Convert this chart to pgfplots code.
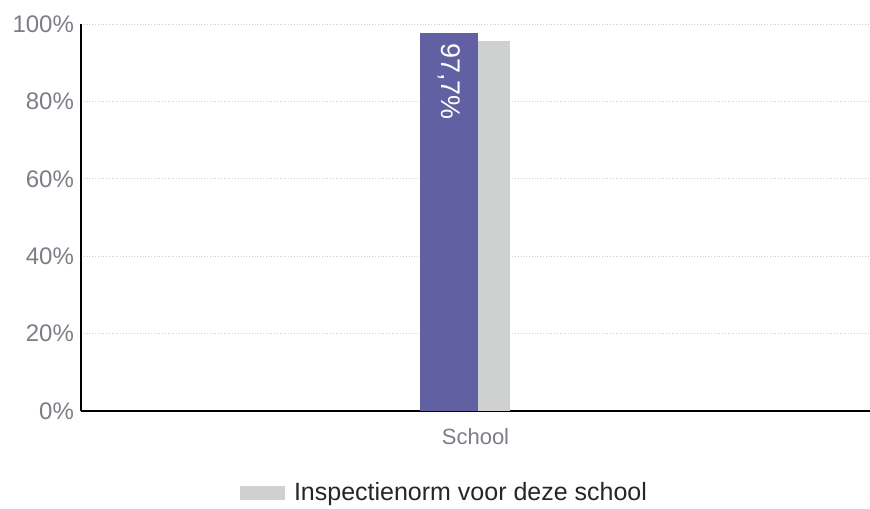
\documentclass[border=0pt]{standalone}
\usepackage{pgfplots}
\pgfplotsset{compat=1.18}
\usepackage{fontspec}
\setmainfont{Liberation Sans}
\definecolor{barpurple}{RGB}{96,96,163}
\definecolor{normgray}{RGB}{206,209,207}
\definecolor{ticktext}{RGB}{125,125,135}
\begin{document}
\begin{tikzpicture}
\useasboundingbox (-40.5pt,-48.5pt) rectangle (394.5pt,205.5pt);
\begin{axis}[
at={(0,0)}, anchor=south west,
scale only axis,
width=394.5pt, height=193.5pt,
xmin=-1, xmax=1,
ymin=0, ymax=100,
ytick={0,20,40,60,80,100},
yticklabel={\pgfmathprintnumber{\tick}\%},
xtick={0}, xticklabels={School},
major tick length=0pt,
axis lines=left,
axis line style={-, black, line width=1pt},
ymajorgrids,
grid style={densely dotted, gray!40},
tick label style={font=\fontsize{11}{13}\selectfont, text=ticktext},
yticklabel style={font=\fontsize{12}{14}\selectfont},
xticklabel style={yshift=-5pt},
/pgf/number format/assume math mode=true,
legend style={at={(0.462,-0.212)}, anchor=center, draw=none,
  font=\fontsize{12.5}{14}\selectfont, text=black!85},
legend image code/.code={\fill[normgray] (0pt,-3.5pt) rectangle (22.5pt,3.5pt);
  \path (0pt,0pt) -- (25pt,0pt);},
]
\addplot[ybar, bar width=0.147, bar shift=0pt, fill=barpurple, draw=none,
  nodes near coords={97,7\%},
  every node near coord/.append style={rotate=-90, anchor=west, text=white,
    font=\fontsize{13.5}{15}\selectfont, inner xsep=5pt}, forget plot]
  coordinates {(-0.067,97.7)};
\addplot[ybar, bar width=0.081, bar shift=0pt, fill=normgray, draw=none]
  coordinates {(0.047,95.7)};
\addlegendentry{Inspectienorm voor deze school}
\end{axis}
\end{tikzpicture}
\end{document}
